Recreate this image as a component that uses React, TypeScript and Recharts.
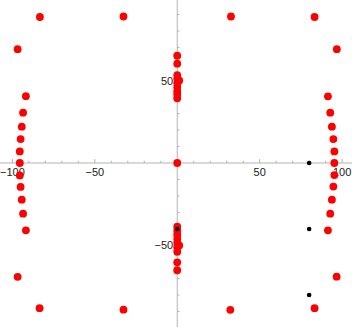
import React from "react";
import { ScatterChart, Scatter, XAxis, YAxis, ReferenceLine, ReferenceDot } from "recharts";

const redX = [
  -83.3, -32.6, 32.6, 83.3,
  -96.8, 96.8,
  -91.8, -93.5, -94.3, -95, -95.5, -95.5, -95.5, -95, -94.3, -93.5, -91.8,
  -96.8, -83.5, -32.6,
  91.4, 92.8, 93.8, 94.7, 95.3, 95.3, 95.3, 94.7, 93.8, 92.8, 91.4,
  96.7, 32.2, 83.3,
  0, 0, 0, 0, 0, 0, 0, 0, 0, 1.2,
  0,
  0, 0, 0, 0, 0, 0, 0, 1.2, 0, 0,
];
const redY = [
  88.5, 88.8, 88.8, 88.5,
  69, 69,
  40.5, 30.5, 22, 14.5, 7, 0, -7.5, -14.5, -22.2, -30.7, -40.8,
  -69, -88, -88.9,
  40.4, 30.5, 22, 14.5, 7, 0, -7.3, -14.3, -22.2, -30.7, -40.8,
  -68.9, -89, -88,
  65, 60.2, 53.3, 51, 48.5, 46, 43.5, 41.5, 39.2, 50,
  0,
  -38.6, -41, -43.5, -46, -48.5, -51, -53.8, -50, -60.2, -65,
];
const blackX = [80, 0, 80, 80];
const blackY = [0, -40, -40, -80];

const xTicks = [-100, -90, -80, -70, -60, -50, -40, -30, -20, -10, 10, 20, 30, 40, 50, 60, 70, 80, 90, 100];
const yTicks = [-90, -80, -70, -60, -50, -40, -30, -20, -10, 10, 20, 30, 40, 50, 60, 70, 80, 90];
const xLabels = [-100, -50, 50, 100];
const yLabels = [-50, 50];

const redData = redX.map((x, i) => ({ x, y: redY[i] }));
const blackData = blackX.map((x, i) => ({ x, y: blackY[i] }));

const fmt = (v: number) => (v < 0 ? "\u2212" + Math.abs(v) : String(v));

const AXIS = "#b3b3b3";
const TXT = "#222222";
const FONT = "'Liberation Sans', Arial, sans-serif";

const xLabel = (text: string) => (p: any) => {
  const vb = p.viewBox || {};
  return (
    <text x={vb.x} y={vb.y + 13} textAnchor="middle" fill={TXT} fontSize={11} fontFamily={FONT}>
      {text}
    </text>
  );
};
const yLabel = (text: string) => (p: any) => {
  const vb = p.viewBox || {};
  return (
    <text x={vb.x - 4} y={vb.y + 4} textAnchor="end" fill={TXT} fontSize={11} fontFamily={FONT}>
      {text}
    </text>
  );
};

export default function App() {
  return (
    <div style={{ position: "absolute", left: 0, top: 0, width: 352, height: 327, background: "#fff" }}>
      <ScatterChart width={352} height={327} margin={{ top: 0, right: 0, bottom: 0, left: 0 }}>
        <XAxis type="number" dataKey="x" domain={[-107.5, 106]} allowDataOverflow hide />
        <YAxis type="number" dataKey="y" domain={[-99.4, 98.8]} allowDataOverflow hide />
        <ReferenceLine y={0} stroke={AXIS} strokeWidth={1} />
        <ReferenceLine x={0} stroke={AXIS} strokeWidth={1} />
        {xTicks.map((t) => (
          <ReferenceLine
            key={"xt" + t}
            segment={[{ x: t, y: 0 }, { x: t, y: t % 50 === 0 ? 2.4 : 1.4 }]}
            stroke={AXIS}
            strokeWidth={1}
          />
        ))}
        {yTicks.map((t) => (
          <ReferenceLine
            key={"yt" + t}
            segment={[{ x: 0, y: t }, { x: t % 50 === 0 ? 2.4 : 1.4, y: t }]}
            stroke={AXIS}
            strokeWidth={1}
          />
        ))}
        {xLabels.map((t) => (
          <ReferenceDot key={"xl" + t} x={t} y={0} r={0} fill="none" stroke="none" label={xLabel(fmt(t))} />
        ))}
        {yLabels.map((t) => (
          <ReferenceDot key={"yl" + t} x={0} y={t} r={0} fill="none" stroke="none" label={yLabel(fmt(t))} />
        ))}
        <Scatter
          data={redData}
          isAnimationActive={false}
          shape={(p: any) => <circle cx={p.cx} cy={p.cy} r={3.9} fill="#ff0000" />}
        />
        <Scatter
          data={blackData}
          isAnimationActive={false}
          shape={(p: any) => <circle cx={p.cx} cy={p.cy} r={2.3} fill="#000000" />}
        />
      </ScatterChart>
    </div>
  );
}
